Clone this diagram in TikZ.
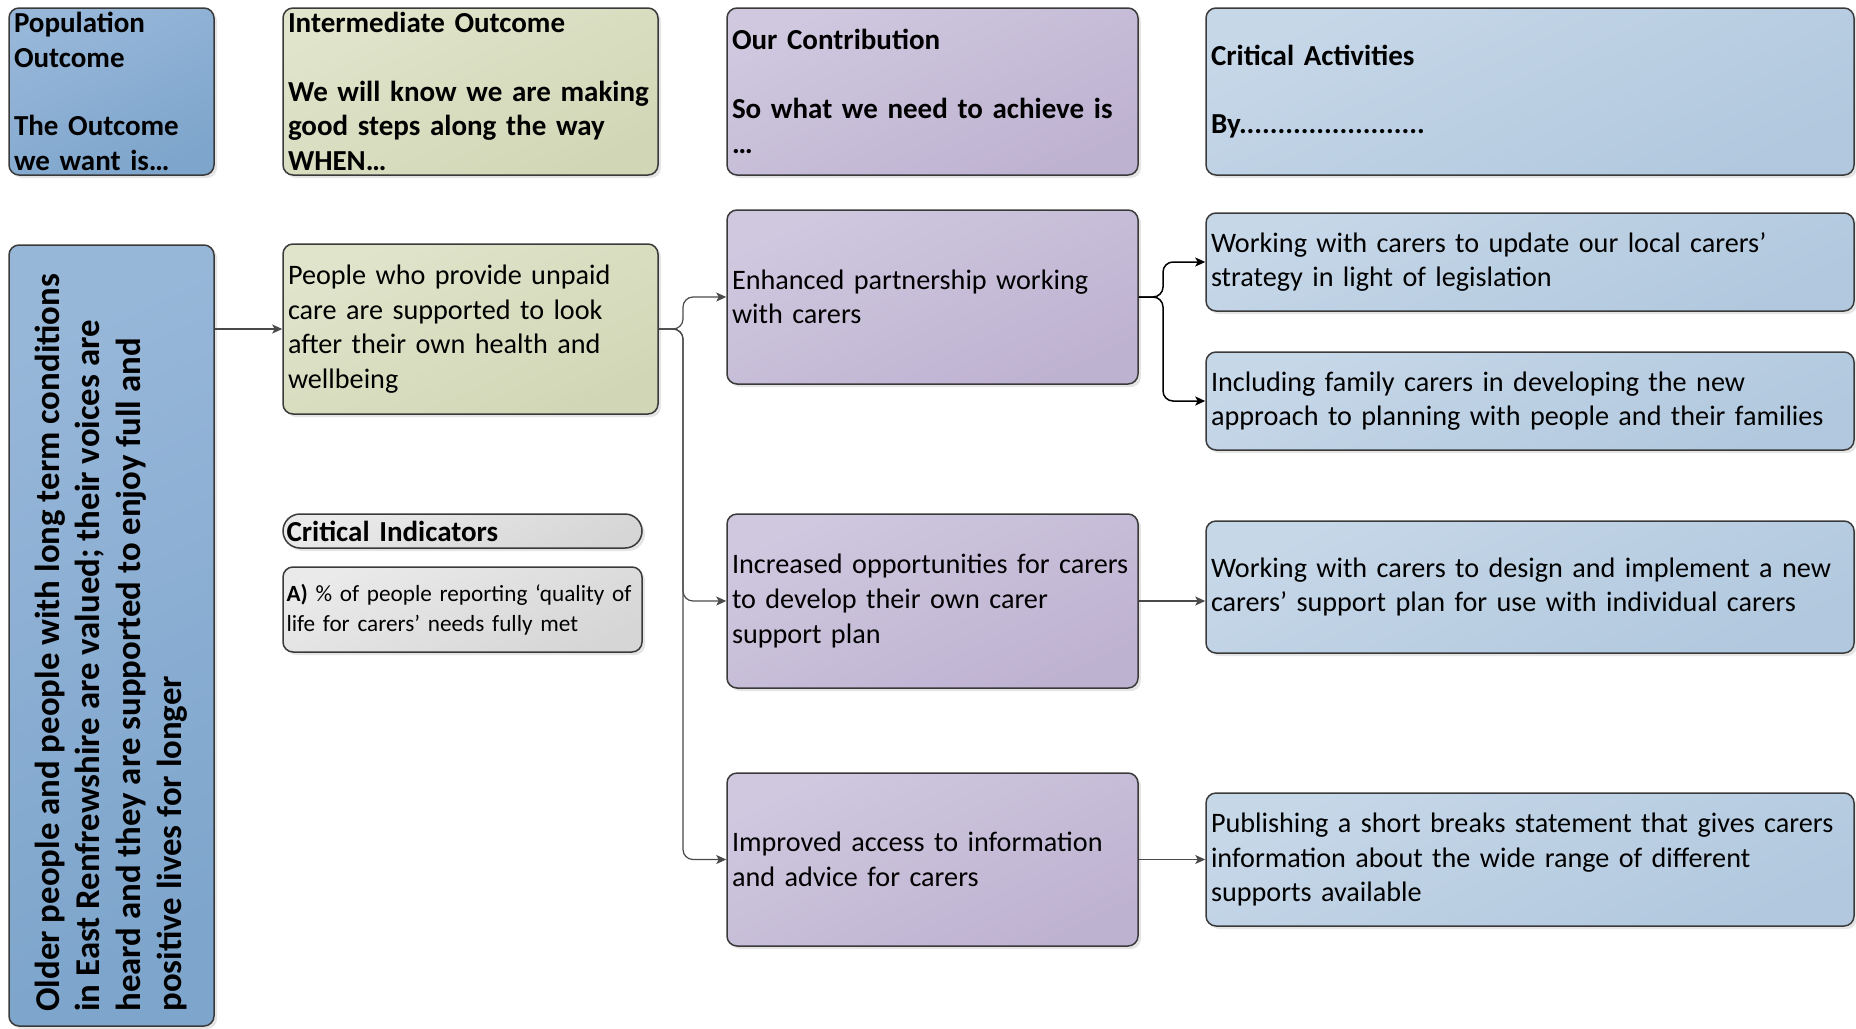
\documentclass[tikz,border=0pt]{standalone}
\usepackage{fontspec}
\setmainfont{Carlito}
\usetikzlibrary{arrows.meta,shadows}
\definecolor{bord}{HTML}{3A3A3A}
\definecolor{conc}{HTML}{4A4A4A}
\definecolor{popA}{HTML}{97B7D9}
\definecolor{popB}{HTML}{7EA5CC}
\definecolor{intA}{HTML}{E0E4CB}
\definecolor{intB}{HTML}{D1D7B6}
\definecolor{conA}{HTML}{CFC8DF}
\definecolor{conB}{HTML}{BEB2D1}
\definecolor{caA}{HTML}{C6D7E8}
\definecolor{caB}{HTML}{B1C8DE}
\definecolor{ciA}{HTML}{EAEAEA}
\definecolor{ciB}{HTML}{D6D6D6}
\begin{document}
\begin{tikzpicture}[x=0.5pt,y=-0.5pt,
  box/.style={draw=bord, line width=0.75pt, rounded corners=5pt, inner xsep=2.5pt, inner ysep=0pt,
    align=left, anchor=center, font=\fontsize{14.1}{17.3}\selectfont,
    drop shadow={shadow xshift=1.5pt, shadow yshift=-1.5pt, fill=black, opacity=0.10}},
  hdr/.style={box, font=\bfseries\fontsize{14.5}{17.2}\selectfont},
  popc/.style={top color=popA, bottom color=popB, shading angle=25},
  intc/.style={top color=intA, bottom color=intB, shading angle=25},
  conc/.style={top color=conA, bottom color=conB, shading angle=25},
  cac/.style={top color=caA, bottom color=caB, shading angle=25},
  cic/.style={top color=ciA, bottom color=ciB, shading angle=25},
  wpop/.style={minimum width=102.5pt, text width=97.5pt},
  wint/.style={minimum width=187.5pt, text width=182.5pt},
  wcon/.style={minimum width=205.5pt, text width=200.5pt},
  wca/.style={minimum width=324pt, text width=319pt},
  wci/.style={minimum width=179.5pt, text width=176pt, inner xsep=1.75pt},
  conn/.style={draw=conc, line width=0.6pt, -{Stealth[length=5pt,width=4.5pt,inset=1.2pt]}},
  connb/.style={draw=black, line width=0.75pt, -{Stealth[length=5pt,width=4.5pt,inset=1.2pt]}}
]
\useasboundingbox (0,0) rectangle (1856,1028);

% header row
\node[hdr, popc, wpop, minimum height=83.5pt] (pophead) at (111.5,91.5)
  {Population\\Outcome\\~\\The Outcome\\we want is…};
\node[hdr, intc, wint, minimum height=83.5pt] (inthead) at (470.5,91.5)
  {Intermediate Outcome\\~\\We will know we are making\\good steps along the way\\WHEN…};
\node[hdr, conc, wcon, minimum height=83.5pt] (conhead) at (932.5,91.5)
  {Our Contribution\\~\\So what we need to achieve is\\…};
\node[hdr, cac, wca, minimum height=83.5pt] (cahead) at (1530,91.5)
  {Critical Activities\\~\\By........................};

% population outcome
\node[box, popc, minimum width=102.5pt, minimum height=390.5pt] (popmain) at (111.5,635.5) {};
\node[rotate=90, anchor=west, align=left, inner sep=0pt,
  font=\bfseries\fontsize{17.4}{20.4}\selectfont] (poptext) at (111,1012)
  {Older people and people with long term conditions\\in East Renfrewshire are valued; their voices are\\heard and they are supported to enjoy full and\\positive lives for longer};

% intermediate outcome
\node[box, intc, wint, minimum height=85pt] (int) at (470.5,329)
  {People who provide unpaid\\care are supported to look\\after their own health and\\wellbeing};
\node[hdr, cic, wci, minimum height=17pt, rounded corners=8.5pt] (cititle) at (462.5,531)
  {Critical Indicators};
\node[box, cic, wci, minimum height=42.5pt, font=\fontsize{11.6}{14.8}\selectfont] (inda) at (462.5,609.5)
  {\textbf{A)} \% of people reporting ‘quality of\\life for carers’ needs fully met};

% contributions
\node[box, conc, wcon, minimum height=87pt] (c1) at (932.5,297)
  {Enhanced partnership working\\with carers};
\node[box, conc, wcon, minimum height=87pt] (c2) at (932.5,601)
  {Increased opportunities for carers\\to develop their own carer\\support plan};
\node[box, conc, wcon, minimum height=86.5pt] (c3) at (932.5,859.5)
  {Improved access to information\\and advice for carers};

% activities
\node[box, cac, wca, minimum height=49pt] (a1) at (1530,262)
  {Working with carers to update our local carers’\\strategy in light of legislation};
\node[box, cac, wca, minimum height=49pt] (a2) at (1530,401)
  {Including family carers in developing the new\\approach to planning with people and their families};
\node[box, cac, wca, minimum height=66pt] (a3) at (1530,587)
  {Working with carers to design and implement a new\\carers’ support plan for use with individual carers};
\node[box, cac, wca, minimum height=66.5pt] (a4) at (1530,859.5)
  {Publishing a short breaks statement that gives carers\\information about the wide range of different\\supports available};

% connectors
\coordinate (bx1) at (683,329);
\coordinate (bx2) at (1163,297);
\draw[conn] (popmain.east |- int.west) -- (int.west);
\draw[conn, rounded corners=5pt] (int.east) -- (bx1) -- (bx1 |- c1.west) -- (c1.west);
\draw[conn, rounded corners=5pt] (int.east) -- (bx1) -- (bx1 |- c2.west) -- (c2.west);
\draw[conn, rounded corners=5pt] (int.east) -- (bx1) -- (bx1 |- c3.west) -- (c3.west);
\draw[connb, rounded corners=5pt] (c1.east) -- (bx2) -- (bx2 |- a1.west) -- (a1.west);
\draw[connb, rounded corners=5pt] (c1.east) -- (bx2) -- (bx2 |- a2.west) -- (a2.west);
\draw[conn] (c2.east) -- (c2.east -| a3.west);
\draw[conn] (c3.east) -- (a4.west);
\end{tikzpicture}
\end{document}
